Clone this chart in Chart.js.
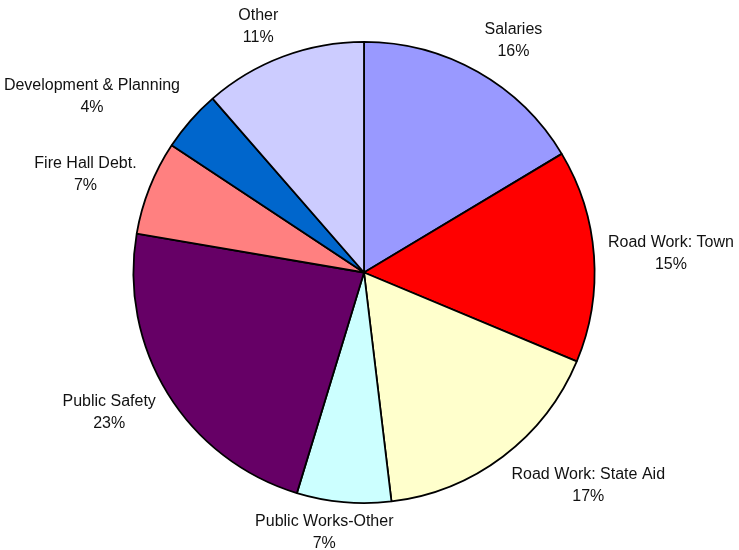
<!DOCTYPE html>
<html>
<head>
<meta charset="utf-8">
<script src="https://cdn.jsdelivr.net/npm/chart.js@4.4.1/dist/chart.umd.min.js"></script>
<style>
	html, body { margin: 0; padding: 0; background: #fff; }
	#wrap { width: 739px; height: 550px; }
</style>
</head>
<body>
<div id="wrap"><canvas id="myChart" width="739" height="550"></canvas></div>
<script>
// budget shares, clockwise from 12 o'clock
const categories = ['Salaries', 'Road Work: Town', 'Road Work: State Aid', 'Public Works-Other',
	'Public Safety', 'Fire Hall Debt.', 'Development & Planning', 'Other'];
const shares = [16.4, 14.9, 16.8, 6.6, 23.0, 6.6, 4.3, 11.4];
const sliceColors = ['#9999FF', '#FF0000', '#FFFFCC', '#CCFFFF', '#660066', '#FF8080', '#0066CC', '#CCCCFF'];

// outside labels: "name" + "nn%", placed around the rim like the spreadsheet does
const outsideLabels = {
	id: 'outsideLabels',
	afterDatasetsDraw(chart) {
		const ctx = chart.ctx;
		const meta = chart.getDatasetMeta(0);
		const data = chart.data.datasets[0].data;
		const total = data.reduce((a, b) => a + b, 0);
		const lineH = 22;
		ctx.save();
		ctx.font = '16px "Liberation Sans", Arial, sans-serif';
		ctx.fillStyle = '#111';
		ctx.textAlign = 'center';
		ctx.textBaseline = 'middle';
		meta.data.forEach((arc, i) => {
			const p = arc.getProps(['x', 'y', 'startAngle', 'endAngle', 'outerRadius'], true);
			const mid = (p.startAngle + p.endAngle) / 2;
			const ux = Math.cos(mid), uy = Math.sin(mid);
			const lines = [chart.data.labels[i], Math.round(data[i] / total * 100) + '%'];
			const w = Math.max(...lines.map(t => ctx.measureText(t).width));
			const h = lineH * lines.length;
			const d = p.outerRadius + 14;
			const fx = Math.max(-1, Math.min(1, ux * 3));
			const cx = p.x + d * ux + fx * w / 2;
			let cy = p.y + d * uy + uy * h / 2;
			// keep the block on the page
			cy = Math.max(cy, h / 2 + 5);
			cy = Math.min(cy, chart.height + 5 - h / 2);
			lines.forEach((t, k) => {
				ctx.fillText(t, cx, cy - h / 2 + lineH * (k + 0.5));
			});
		});
		ctx.restore();
	}
};

const ctx = document.getElementById('myChart').getContext('2d');
const myChart = new Chart(ctx, {
	type: 'pie',
	data: {
		labels: categories,
		datasets: [{
			data: shares,
			backgroundColor: sliceColors,
			borderColor: '#000',
			borderWidth: 1.8,
			hoverOffset: 0
		}]
	},
	options: {
		responsive: false,
		animation: false,
		layout: {
			padding: { top: 41, bottom: 46, left: 0, right: 11 }
		},
		plugins: {
			legend: { display: false },
			tooltip: { enabled: false }
		}
	},
	plugins: [outsideLabels]
});
</script>
</body>
</html>
